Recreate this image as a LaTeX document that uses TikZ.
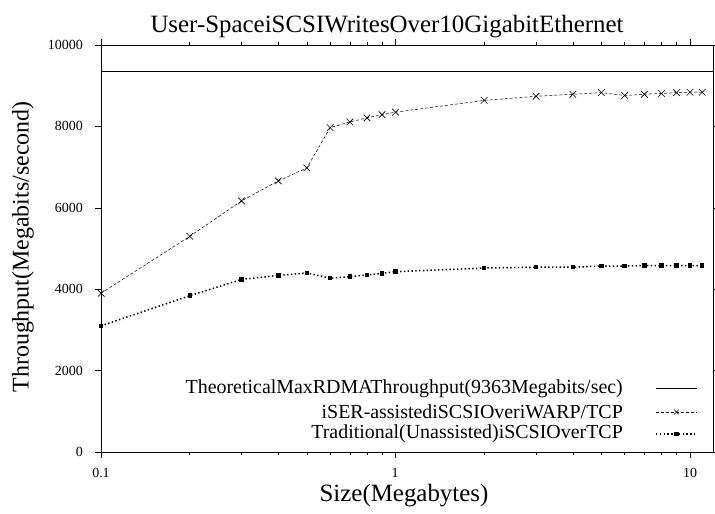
\documentclass[tikz,border=0pt]{standalone}
\usepackage{fontspec}
\setmainfont{Liberation Serif}
\usetikzlibrary{positioning, shapes.misc, calc}

\begin{document}
\begin{tikzpicture}[x=1bp, y=1bp,
    frame/.style={draw=black, line width=0.8bp},
    tick/.style={draw=black, line width=0.6bp},
    ticklbl/.style={inner sep=0pt, font=\fontsize{14}{14}\selectfont},
    axislbl/.style={inner sep=0pt, font=\fontsize{25}{25}\selectfont},
    legendlbl/.style={inner sep=0pt, anchor=east, font=\fontsize{20}{20}\selectfont},
    maxline/.style={draw=black, line width=0.7bp},
    iserline/.style={draw=black, line width=0.5bp, dash pattern=on 3bp off 2bp},
    tradline/.style={draw=black, line width=1.5bp, dash pattern=on 1.4bp off 2.4bp},
    xmark/.style={cross out, draw=black, line width=0.6bp, minimum size=6bp, inner sep=0pt},
    sqmark/.style={rectangle, fill=black, minimum size=4.5bp, inner sep=0pt}
]
    \useasboundingbox (0,0) rectangle (715,514);

    % ── Titres ──
    \node[axislbl] (title) at (387,487)
        {User-SpaceiSCSIWritesOver10GigabitEthernet};
    \node[axislbl] (xlabel) at (404,18) {Size(Megabytes)};
    \node[axislbl, font=\fontsize{24}{24}\selectfont, rotate=90] (ylabel) at (23,267)
        {Throughput(Megabits/second)};

    % ── Cadre du graphe ──
    \draw[frame] (101,62) rectangle (713,469);

    % ── Graduations en y ──
    \foreach \v in {0,2000,...,10000} {
        \draw[tick] (95,{62+0.0407*\v}) -- (101,{62+0.0407*\v});
        \draw[tick] (713,{62+0.0407*\v}) -- (719,{62+0.0407*\v});
        \node[ticklbl, anchor=east] (ylab\v) at (83,{62+0.0407*\v}) {\v};
    }

    % ── Graduations en x (log) ──
    \foreach \d in {0,1} {
        \foreach \m in {2,...,9} {
            \draw[tick] ({101+294.5*(\d+log10(\m))},62) -- ++(0,-3);
            \draw[tick] ({101+294.5*(\d+log10(\m))},469) -- ++(0,3);
        }
    }
    \foreach \d in {0,1,2} {
        \draw[tick] ({101+294.5*\d},62) -- ++(0,-6);
        \draw[tick] ({101+294.5*\d},469) -- ++(0,6);
    }
    \node[ticklbl] (xlab0) at (101,41) {0.1};
    \node[ticklbl] (xlab1) at (395,41) {1};
    \node[ticklbl] (xlab2) at (690,41) {10};

    % ── Courbes ──
    \begin{scope}[shift={(101,62)}, x=294.5bp, y=0.0407bp]
        \draw[maxline] (0,9363) -- ({log10(120)},9363);

        \draw[iserline] (0,3900)
            \foreach \s/\t in {0.2/5300, 0.3/6170, 0.4/6660, 0.5/6980, 0.6/7970,
                0.7/8110, 0.8/8210, 0.9/8290, 1/8350, 2/8640, 3/8740, 4/8790,
                5/8830, 6/8760, 7/8790, 8/8810, 9/8830, 10/8840, 11/8840}
            { -- ({log10(\s)+1},\t) };
        \foreach \s/\t [count=\i] in {0.1/3900, 0.2/5300, 0.3/6170, 0.4/6660,
                0.5/6980, 0.6/7970, 0.7/8110, 0.8/8210, 0.9/8290, 1/8350,
                2/8640, 3/8740, 4/8790, 5/8830, 6/8760, 7/8790, 8/8810,
                9/8830, 10/8840, 11/8840}
            \node[xmark] (iser\i) at ({log10(\s)+1},\t) {};

        \draw[tradline] (0,3100)
            \foreach \s/\t in {0.2/3840, 0.3/4240, 0.4/4340, 0.5/4400, 0.6/4270,
                0.7/4310, 0.8/4350, 0.9/4390, 1/4430, 2/4520, 3/4540, 4/4540,
                5/4570, 6/4570, 7/4580, 8/4580, 9/4580, 10/4580, 11/4580}
            { -- ({log10(\s)+1},\t) };
        \foreach \s/\t [count=\i] in {0.1/3100, 0.2/3840, 0.3/4240, 0.4/4340,
                0.5/4400, 0.6/4270, 0.7/4310, 0.8/4350, 0.9/4390, 1/4430,
                2/4520, 3/4540, 4/4540, 5/4570, 6/4570, 7/4580, 8/4580,
                9/4580, 10/4580, 11/4580}
            \node[sqmark] (trad\i) at ({log10(\s)+1},\t) {};
    \end{scope}

    % ── Légende ──
    \node[legendlbl] (leg1) at (623,125) {TheoreticalMaxRDMAThroughput(9363Megabits/sec)};
    \node[legendlbl] (leg2) at (623,102) {iSER-assistediSCSIOveriWARP/TCP};
    \node[legendlbl] (leg3) at (623,80) {Traditional(Unassisted)iSCSIOverTCP};
    \coordinate (s1a) at (656,126);
    \coordinate (s1b) at (697,126);
    \coordinate (s2a) at (656,102);
    \coordinate (s2b) at (697,102);
    \coordinate (s3a) at (656,80);
    \coordinate (s3b) at (697,80);
    \draw[maxline] (s1a) -- (s1b);
    \draw[iserline] (s2a) -- (s2b);
    \node[xmark, minimum size=4bp] (legx) at ($(s2a)!0.5!(s2b)$) {};
    \draw[tradline] (s3a) -- (s3b);
    \node[sqmark] (legsq) at ($(s3a)!0.5!(s3b)$) {};
\end{tikzpicture}
\end{document}
